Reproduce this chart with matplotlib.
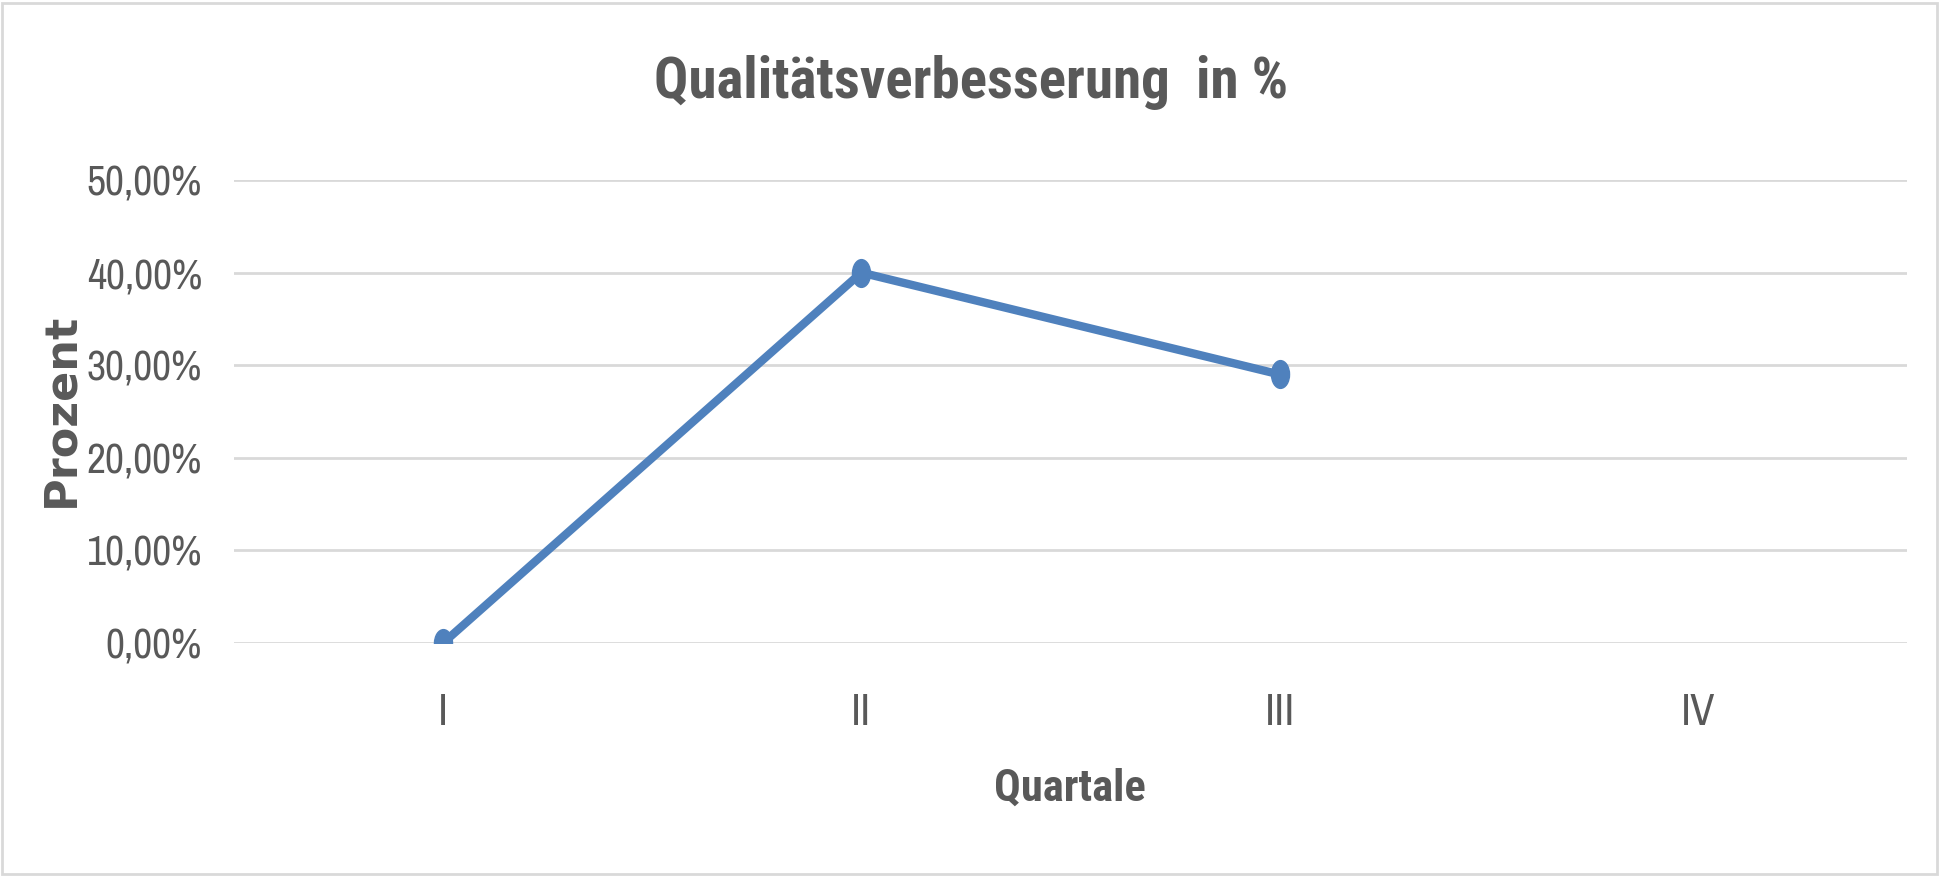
import numpy as np
import matplotlib
matplotlib.use("Agg")
import matplotlib.pyplot as plt
from matplotlib.path import Path
from matplotlib.ticker import FuncFormatter
from matplotlib.patches import Rectangle

# data
quartale = ["I", "II", "III", "IV"]
verbesserung = [0.0, 0.40, 0.29, np.nan]   # IV noch ohne Wert
y_ticks = [0.0, 0.1, 0.2, 0.3, 0.4, 0.5]

# colours
blue = "#4F81BD"
txt = "#595959"
grid = "#D9D9D9"

narrow = ["Archivo Narrow", "DejaVu Sans"]
narrow_bold = ["Roboto Condensed", "DejaVu Sans"]

fig = plt.figure(figsize=(19.39, 8.77), dpi=100)
ax = fig.add_axes([234/1939, 1 - 643/877, (1907-234)/1939, (643-180)/877])

# squashed ellipse marker like the reference
circ = Path.unit_circle()
ell = Path(circ.vertices * np.array([0.65, 1.0]), circ.codes)

x = np.arange(len(quartale))
ax.plot(x, verbesserung, color=blue, lw=6, marker=ell, ms=20,
        markerfacecolor=blue, markeredgecolor=blue, solid_capstyle="round")

ax.set_xlim(-0.5, 3.5)
ax.set_ylim(0, 0.5)
ax.set_yticks(y_ticks)
ax.yaxis.set_major_formatter(FuncFormatter(lambda v, p: f"{v*100:.2f}%".replace(".", ",")))
ax.set_xticks(x)
ax.set_xticklabels(quartale)
ax.grid(axis="y", color=grid, lw=2)
ax.set_axisbelow(True)
for s in ax.spines.values():
    s.set_visible(False)
ax.tick_params(length=0)
ax.tick_params(axis="y", pad=23)
ax.tick_params(axis="x", pad=36)
for lab in ax.get_yticklabels():
    lab.set_family(narrow)
    lab.set_fontsize(30)
    lab.set_color(txt)
for lab in ax.get_xticklabels():
    lab.set_family(narrow)
    lab.set_fontsize(32)
    lab.set_color(txt)

fig.text(971/1939, 1 - 82/877, "Qualitätsverbesserung  in %", ha="center", va="center",
         family=narrow_bold, fontsize=41, fontweight="bold", color=txt)
fig.text(1070/1939, 1 - 789/877, "Quartale", ha="center", va="center",
         family=narrow_bold, fontsize=32, fontweight="bold", color=txt)
fig.text(61/1939, 1 - 410/877, "Prozent", ha="center", va="center", rotation=90,
         family="DejaVu Sans", fontsize=32, fontweight="bold", color=txt)

# chart border
fig.patches.append(Rectangle((2/1939, 3/877), 1 - 4/1939, 1 - 6/877, transform=fig.transFigure,
                             fill=False, edgecolor=grid, lw=2))

fig.savefig("out.png", dpi=100)
